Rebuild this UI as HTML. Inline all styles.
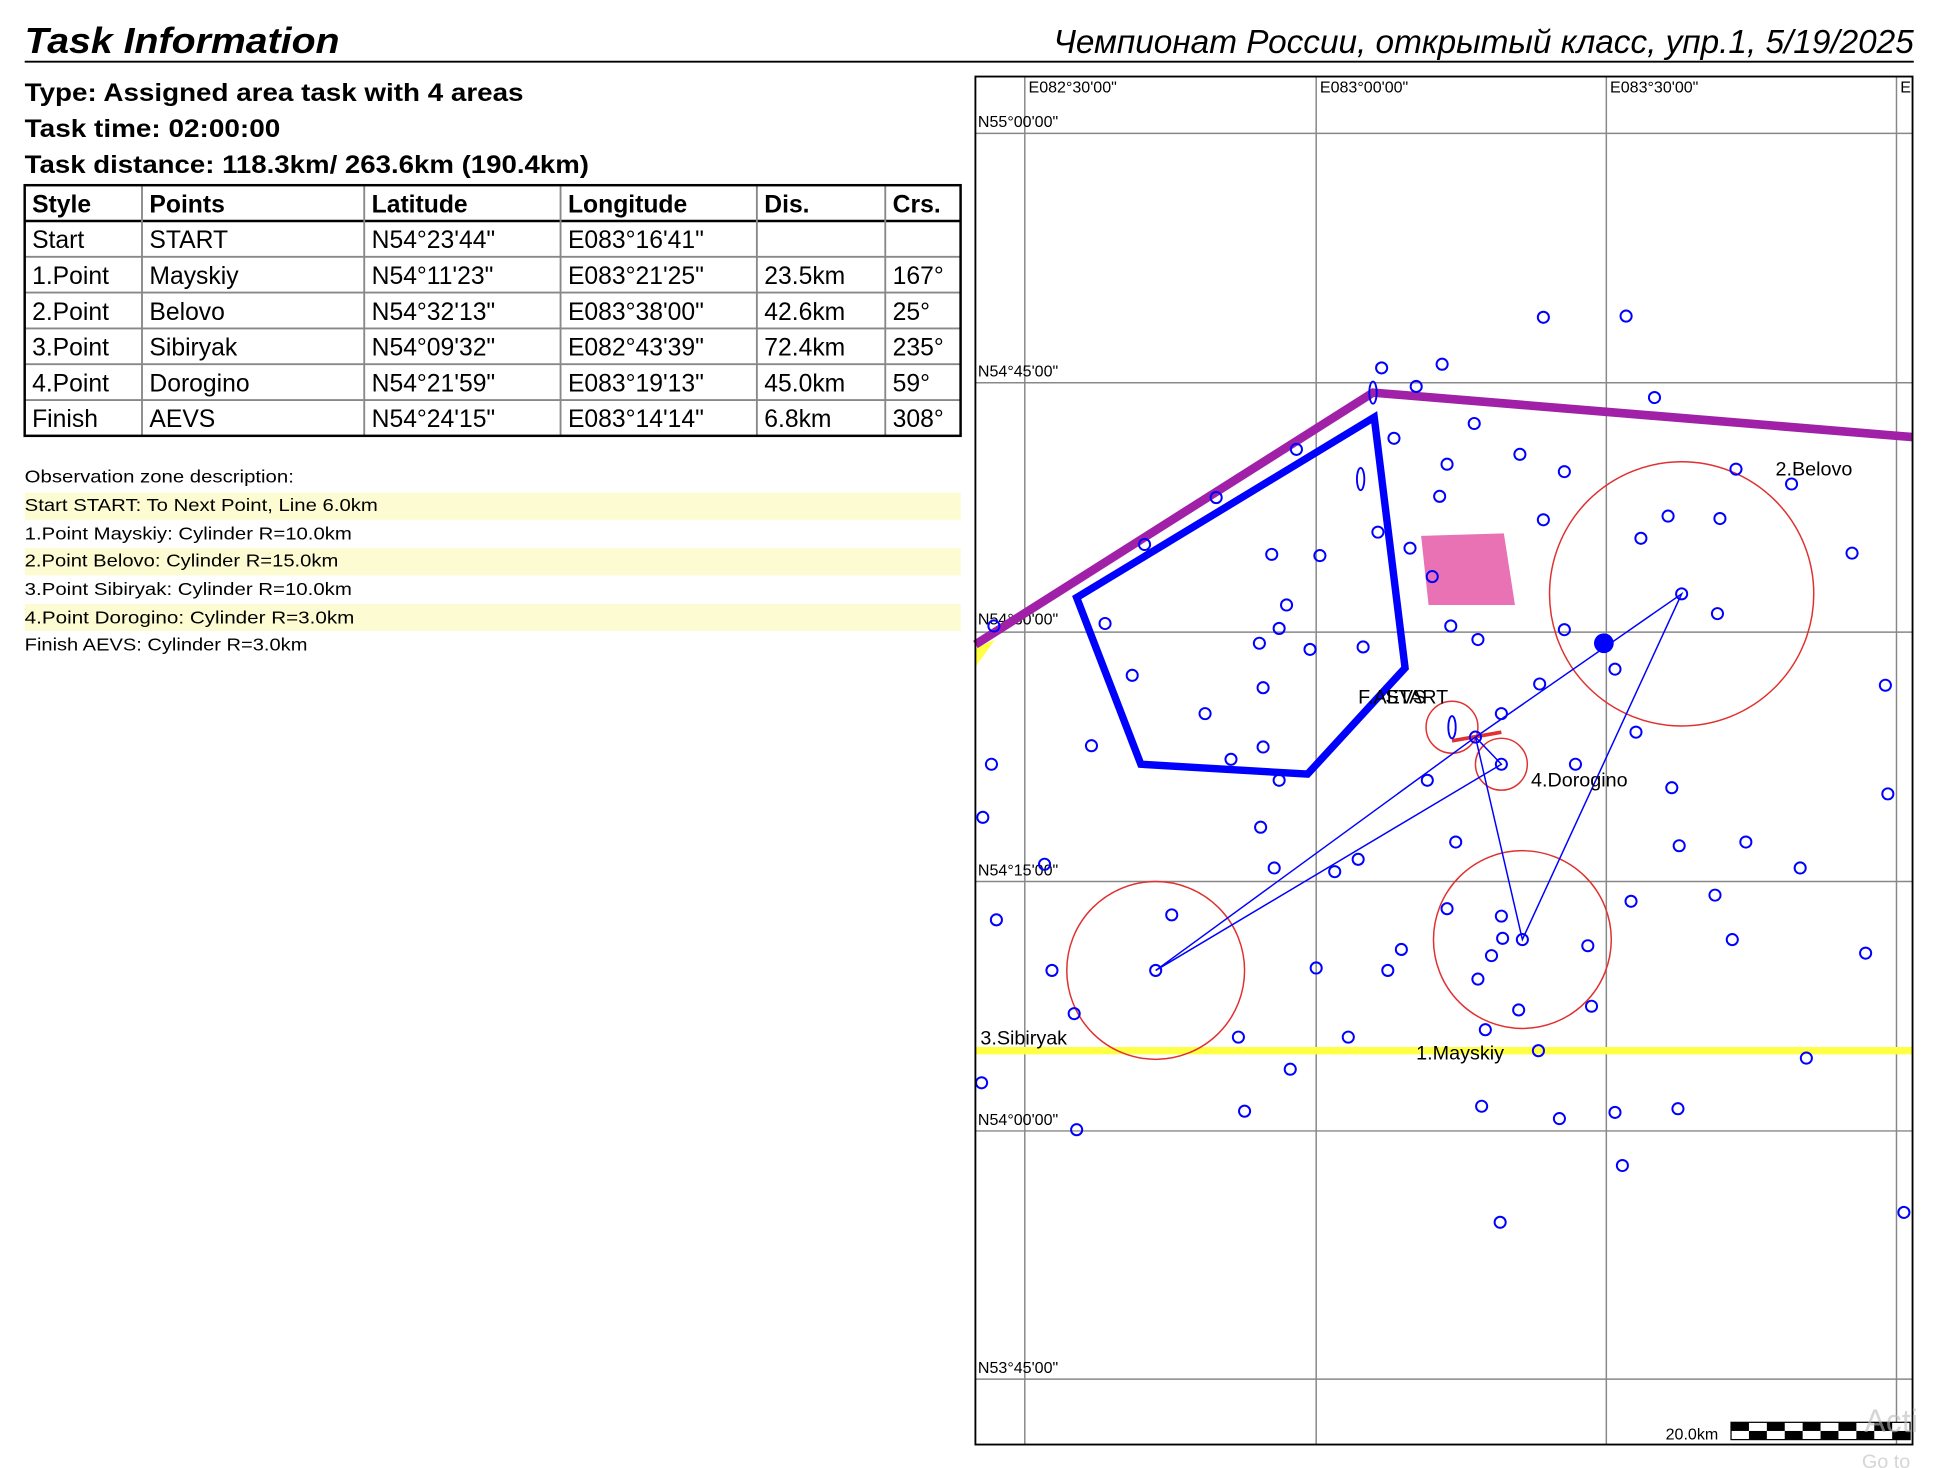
<!DOCTYPE html>
<html><head><meta charset="utf-8"><style>
html,body{margin:0;padding:0;background:#fff;}
svg{display:block;}
text{font-family:"Liberation Sans","DejaVu Sans",sans-serif;}
</style></head><body>
<svg width="1936" height="1468" viewBox="0 0 1568 1189" preserveAspectRatio="none" xmlns="http://www.w3.org/2000/svg">
<rect width="1568" height="1189" fill="#fff"/>
<text x="20" y="43" font-size="29" font-weight="bold" font-style="italic" fill="#000" textLength="255" lengthAdjust="spacingAndGlyphs">Task Information</text>
<text x="1550" y="43" font-size="27" font-style="italic" text-anchor="end" fill="#000">Чемпионат России, открытый класс, упр.1, 5/19/2025</text>
<line x1="20" y1="50" x2="1550" y2="50" stroke="#000" stroke-width="1.5"/>
<g font-size="20" font-weight="bold" fill="#000">
<text x="20" y="82" textLength="404" lengthAdjust="spacingAndGlyphs">Type: Assigned area task with 4 areas</text>
<text x="20" y="111" textLength="207" lengthAdjust="spacingAndGlyphs">Task time: 02:00:00</text>
<text x="20" y="140" textLength="457" lengthAdjust="spacingAndGlyphs">Task distance: 118.3km/ 263.6km (190.4km)</text>
</g>
<g stroke="#888" stroke-width="1.5">
<line x1="20" y1="179" x2="778" y2="179" stroke="#000" stroke-width="2"/>
<line x1="20" y1="208" x2="778" y2="208"/>
<line x1="20" y1="237" x2="778" y2="237"/>
<line x1="20" y1="266" x2="778" y2="266"/>
<line x1="20" y1="295" x2="778" y2="295"/>
<line x1="20" y1="324" x2="778" y2="324"/>
<line x1="115" y1="150" x2="115" y2="353"/>
<line x1="295" y1="150" x2="295" y2="353"/>
<line x1="454" y1="150" x2="454" y2="353"/>
<line x1="613" y1="150" x2="613" y2="353"/>
<line x1="717" y1="150" x2="717" y2="353"/>
</g>
<rect x="20" y="150" width="758" height="203" fill="none" stroke="#000" stroke-width="2"/>
<g font-size="20" fill="#000">
<g font-weight="bold"><text x="26" y="172">Style</text><text x="121" y="172">Points</text><text x="301" y="172">Latitude</text><text x="460" y="172">Longitude</text><text x="619" y="172">Dis.</text><text x="723" y="172">Crs.</text></g>
<text x="26" y="201">Start</text><text x="121" y="201">START</text><text x="301" y="201">N54°23'44"</text><text x="460" y="201">E083°16'41"</text>
<text x="26" y="230">1.Point</text><text x="121" y="230">Mayskiy</text><text x="301" y="230">N54°11'23"</text><text x="460" y="230">E083°21'25"</text><text x="619" y="230">23.5km</text><text x="723" y="230">167°</text>
<text x="26" y="259">2.Point</text><text x="121" y="259">Belovo</text><text x="301" y="259">N54°32'13"</text><text x="460" y="259">E083°38'00"</text><text x="619" y="259">42.6km</text><text x="723" y="259">25°</text>
<text x="26" y="288">3.Point</text><text x="121" y="288">Sibiryak</text><text x="301" y="288">N54°09'32"</text><text x="460" y="288">E082°43'39"</text><text x="619" y="288">72.4km</text><text x="723" y="288">235°</text>
<text x="26" y="317">4.Point</text><text x="121" y="317">Dorogino</text><text x="301" y="317">N54°21'59"</text><text x="460" y="317">E083°19'13"</text><text x="619" y="317">45.0km</text><text x="723" y="317">59°</text>
<text x="26" y="346">Finish</text><text x="121" y="346">AEVS</text><text x="301" y="346">N54°24'15"</text><text x="460" y="346">E083°14'14"</text><text x="619" y="346">6.8km</text><text x="723" y="346">308°</text>
</g>
<rect x="20" y="399" width="758" height="22" fill="#fdfbd2"/>
<rect x="20" y="444" width="758" height="22" fill="#fdfbd2"/>
<rect x="20" y="489" width="758" height="22" fill="#fdfbd2"/>
<g font-size="14" fill="#000" lengthAdjust="spacingAndGlyphs">
<text x="20" y="391" textLength="218" lengthAdjust="spacingAndGlyphs">Observation zone description:</text>
<text x="20" y="414" textLength="286" lengthAdjust="spacingAndGlyphs">Start START: To Next Point, Line 6.0km</text>
<text x="20" y="437" textLength="265" lengthAdjust="spacingAndGlyphs">1.Point Mayskiy: Cylinder R=10.0km</text>
<text x="20" y="459" textLength="254" lengthAdjust="spacingAndGlyphs">2.Point Belovo: Cylinder R=15.0km</text>
<text x="20" y="482" textLength="265" lengthAdjust="spacingAndGlyphs">3.Point Sibiryak: Cylinder R=10.0km</text>
<text x="20" y="505" textLength="267" lengthAdjust="spacingAndGlyphs">4.Point Dorogino: Cylinder R=3.0km</text>
<text x="20" y="527" textLength="229" lengthAdjust="spacingAndGlyphs">Finish AEVS: Cylinder R=3.0km</text>
</g>
<!-- map -->
<g stroke="#888" stroke-width="1.2">
<line x1="830" y1="62" x2="830" y2="1170"/><line x1="1066" y1="62" x2="1066" y2="1170"/><line x1="1301" y1="62" x2="1301" y2="1170"/><line x1="1536" y1="62" x2="1536" y2="1170"/>
<line x1="790" y1="108" x2="1549" y2="108"/><line x1="790" y1="310" x2="1549" y2="310"/><line x1="790" y1="512" x2="1549" y2="512"/><line x1="790" y1="714" x2="1549" y2="714"/><line x1="790" y1="916" x2="1549" y2="916"/><line x1="790" y1="1117" x2="1549" y2="1117"/>
</g>
<g font-size="13" fill="#000">
<text x="833" y="75">E082°30'00"</text><text x="1069" y="75">E083°00'00"</text><text x="1304" y="75">E083°30'00"</text><text x="1539" y="75">E</text>
<text x="792" y="103">N55°00'00"</text><text x="792" y="305">N54°45'00"</text><text x="792" y="506">N54°30'00"</text><text x="792" y="709">N54°15'00"</text><text x="792" y="911">N54°00'00"</text><text x="792" y="1112">N53°45'00"</text>
</g>
<line x1="790" y1="851" x2="1549" y2="851" stroke="#ffff44" stroke-width="6"/>
<polygon points="790,525 806,518 790,540" fill="#ffff44"/>
<polygon points="1151,434 1218,432 1227,490 1157,490" fill="#e872b4"/>
<polyline points="790,522 1112,318 1549,354" fill="none" stroke="#a020a8" stroke-width="7"/>
<polygon points="1113,338 1138,541 1059,627 924,619 872,484" fill="none" stroke="#0000ff" stroke-width="6"/>
<g fill="none" stroke="#e03030" stroke-width="1.2">
<circle cx="1362" cy="481" r="107"/><circle cx="936" cy="786" r="72"/><circle cx="1233" cy="761" r="72"/><circle cx="1216" cy="619" r="21"/><circle cx="1176" cy="589" r="21"/>
</g>
<line x1="1176" y1="600" x2="1216" y2="593" stroke="#e03030" stroke-width="3"/>
<g fill="none" stroke="#0000ff" stroke-width="1.2">
<polyline points="1195,597 1233,761 1362,481 1195,597"/>
<polyline points="1195,597 936,786 1216,619 1195,597"/>
</g>
<circle cx="1299" cy="521" r="8" fill="#0000ff"/>
<g fill="none" stroke="#0000ff" stroke-width="1.5">
<ellipse cx="1112" cy="318" rx="3" ry="9"/><ellipse cx="1102" cy="388" rx="3" ry="9"/><ellipse cx="1176" cy="589" rx="3" ry="9"/>
</g>
<g fill="none" stroke="#0000ff" stroke-width="1.6">
<circle cx="1250" cy="257" r="4.5"/><circle cx="1317" cy="256" r="4.5"/><circle cx="1119" cy="298" r="4.5"/><circle cx="1168" cy="295" r="4.5"/><circle cx="1147" cy="313" r="4.5"/><circle cx="1340" cy="322" r="4.5"/><circle cx="1194" cy="343" r="4.5"/><circle cx="1129" cy="355" r="4.5"/><circle cx="1172" cy="376" r="4.5"/><circle cx="1231" cy="368" r="4.5"/><circle cx="1267" cy="382" r="4.5"/><circle cx="1406" cy="380" r="4.5"/><circle cx="1451" cy="392" r="4.5"/><circle cx="1166" cy="402" r="4.5"/><circle cx="1250" cy="421" r="4.5"/><circle cx="1329" cy="436" r="4.5"/><circle cx="1351" cy="418" r="4.5"/><circle cx="1393" cy="420" r="4.5"/><circle cx="1116" cy="431" r="4.5"/><circle cx="1142" cy="444" r="4.5"/><circle cx="1030" cy="449" r="4.5"/><circle cx="1069" cy="450" r="4.5"/><circle cx="1500" cy="448" r="4.5"/><circle cx="1160" cy="467" r="4.5"/><circle cx="1042" cy="490" r="4.5"/><circle cx="1391" cy="497" r="4.5"/><circle cx="1036" cy="509" r="4.5"/><circle cx="895" cy="505" r="4.5"/><circle cx="1020" cy="521" r="4.5"/><circle cx="1061" cy="526" r="4.5"/><circle cx="1104" cy="524" r="4.5"/><circle cx="1175" cy="507" r="4.5"/><circle cx="1197" cy="518" r="4.5"/><circle cx="1267" cy="510" r="4.5"/><circle cx="1308" cy="542" r="4.5"/><circle cx="1247" cy="554" r="4.5"/><circle cx="1527" cy="555" r="4.5"/><circle cx="1023" cy="557" r="4.5"/><circle cx="917" cy="547" r="4.5"/><circle cx="976" cy="578" r="4.5"/><circle cx="1216" cy="578" r="4.5"/><circle cx="1325" cy="593" r="4.5"/><circle cx="884" cy="604" r="4.5"/><circle cx="997" cy="615" r="4.5"/><circle cx="1023" cy="605" r="4.5"/><circle cx="1036" cy="632" r="4.5"/><circle cx="803" cy="619" r="4.5"/><circle cx="1276" cy="619" r="4.5"/><circle cx="1354" cy="638" r="4.5"/><circle cx="1529" cy="643" r="4.5"/><circle cx="796" cy="662" r="4.5"/><circle cx="1021" cy="670" r="4.5"/><circle cx="1179" cy="682" r="4.5"/><circle cx="1360" cy="685" r="4.5"/><circle cx="1414" cy="682" r="4.5"/><circle cx="1458" cy="703" r="4.5"/><circle cx="1032" cy="703" r="4.5"/><circle cx="1081" cy="706" r="4.5"/><circle cx="1100" cy="696" r="4.5"/><circle cx="846" cy="700" r="4.5"/><circle cx="807" cy="745" r="4.5"/><circle cx="949" cy="741" r="4.5"/><circle cx="1172" cy="736" r="4.5"/><circle cx="1216" cy="742" r="4.5"/><circle cx="1321" cy="730" r="4.5"/><circle cx="1389" cy="725" r="4.5"/><circle cx="1217" cy="760" r="4.5"/><circle cx="1208" cy="774" r="4.5"/><circle cx="1135" cy="769" r="4.5"/><circle cx="1286" cy="766" r="4.5"/><circle cx="1403" cy="761" r="4.5"/><circle cx="1511" cy="772" r="4.5"/><circle cx="852" cy="786" r="4.5"/><circle cx="1066" cy="784" r="4.5"/><circle cx="1124" cy="786" r="4.5"/><circle cx="1197" cy="793" r="4.5"/><circle cx="1289" cy="815" r="4.5"/><circle cx="1230" cy="818" r="4.5"/><circle cx="870" cy="821" r="4.5"/><circle cx="1003" cy="840" r="4.5"/><circle cx="1092" cy="840" r="4.5"/><circle cx="1203" cy="834" r="4.5"/><circle cx="1246" cy="851" r="4.5"/><circle cx="1463" cy="857" r="4.5"/><circle cx="1045" cy="866" r="4.5"/><circle cx="795" cy="877" r="4.5"/><circle cx="1008" cy="900" r="4.5"/><circle cx="1200" cy="896" r="4.5"/><circle cx="1263" cy="906" r="4.5"/><circle cx="1308" cy="901" r="4.5"/><circle cx="1359" cy="898" r="4.5"/><circle cx="872" cy="915" r="4.5"/><circle cx="1314" cy="944" r="4.5"/><circle cx="1215" cy="990" r="4.5"/><circle cx="1542" cy="982" r="4.5"/><circle cx="1156" cy="632" r="4.5"/><circle cx="936" cy="786" r="4.5"/><circle cx="1362" cy="481" r="4.5"/><circle cx="1233" cy="761" r="4.5"/><circle cx="1216" cy="619" r="4.5"/><circle cx="1195" cy="597" r="4.5"/><circle cx="985" cy="403" r="4.5"/><circle cx="927" cy="441" r="4.5"/><circle cx="1050" cy="364" r="4.5"/><circle cx="805" cy="507" r="4.5"/>
</g>
<g font-size="16" fill="#000">
<text x="1438" y="385">2.Belovo</text><text x="1240" y="637">4.Dorogino</text><text x="794" y="846">3.Sibiryak</text><text x="1147" y="858">1.Mayskiy</text>
<text x="1100" y="570">F.AEVS</text><text x="1122" y="570">START</text>
</g>
<rect x="790" y="62" width="759" height="1108" fill="none" stroke="#000" stroke-width="1.5"/>
<text x="1349" y="1166" font-size="13" fill="#000">20.0km</text>
<rect x="1402" y="1152" width="145" height="14" fill="#fff" stroke="#000"/>
<g fill="#000">
<rect x="1402" y="1152" width="14.5" height="7"/><rect x="1431" y="1152" width="14.5" height="7"/><rect x="1460" y="1152" width="14.5" height="7"/><rect x="1489" y="1152" width="14.5" height="7"/><rect x="1518" y="1152" width="14.5" height="7"/>
<rect x="1416.5" y="1159" width="14.5" height="7"/><rect x="1445.5" y="1159" width="14.5" height="7"/><rect x="1474.5" y="1159" width="14.5" height="7"/><rect x="1503.5" y="1159" width="14.5" height="7"/><rect x="1532.5" y="1159" width="14.5" height="7"/>
</g>
<text x="1510" y="1160" font-size="26" fill="#bbb" opacity="0.6">Acti</text>
<text x="1508" y="1189" font-size="16" fill="#bbb" opacity="0.6">Go to</text>
</svg>
</body></html>
